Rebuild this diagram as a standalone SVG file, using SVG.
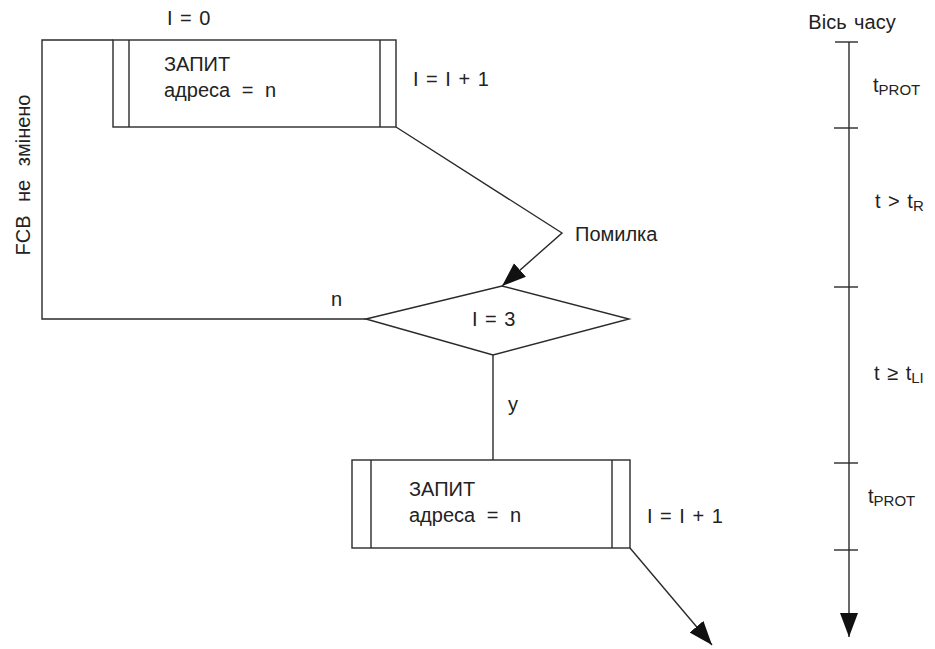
<svg xmlns="http://www.w3.org/2000/svg" width="935" height="649" viewBox="0 0 935 649">
  <defs>
    <style>
      .ln { fill: none; stroke: #2a2a2a; stroke-width: 1.4; }
      .bx { fill: #ffffff; stroke: #2a2a2a; stroke-width: 1.4; }
      .tx { font-family: "Liberation Sans", Arial, sans-serif; font-size: 20px; fill: #222222; word-spacing: 2px; }
      .sub { font-size: 15px; }
    </style>
    <marker id="arrBig" viewBox="0 0 10 10" refX="10" refY="5" markerWidth="24" markerHeight="20" markerUnits="userSpaceOnUse" orient="auto" preserveAspectRatio="none">
      <path d="M0,0.5 L10,5 L0,9.5 z" fill="#111111"/>
    </marker>
  </defs>
  <rect width="935" height="649" fill="#ffffff"/>

  <!-- connectors -->
  <g id="connectors">
    <!-- retry loop: n branch back to top -->
    <polyline class="ln" points="366,319 42,319 42,40 113,40"/>
    <!-- error path from first request -->
    <polyline class="ln" points="396,127 562,233 502,286" marker-end="url(#arrBig)"/>
    <!-- y branch -->
    <line class="ln" x1="493" y1="355" x2="493" y2="460"/>
    <!-- exit from second request -->
    <line class="ln" x1="630" y1="548" x2="712" y2="645" marker-end="url(#arrBig)"/>
  </g>

  <!-- first request -->
  <g id="request1">
    <rect class="bx" x="113" y="40" width="283" height="87"/>
    <line class="ln" x1="129" y1="40" x2="129" y2="127"/>
    <line class="ln" x1="380" y1="40" x2="380" y2="127"/>
    <text class="tx" x="164" y="71">ЗАПИТ</text>
    <text class="tx" x="164" y="97" style="word-spacing:6px">адреса = n</text>
  </g>

  <!-- decision -->
  <g id="decision">
    <polygon class="bx" points="366,319 502,286 629,319 493,355"/>
    <text class="tx" x="472" y="326">I = 3</text>
  </g>

  <!-- second request -->
  <g id="request2">
    <rect class="bx" x="352" y="460" width="278" height="88"/>
    <line class="ln" x1="371" y1="460" x2="371" y2="548"/>
    <line class="ln" x1="612" y1="460" x2="612" y2="548"/>
    <text class="tx" x="409" y="496">ЗАПИТ</text>
    <text class="tx" x="409" y="522" style="word-spacing:6px">адреса = n</text>
  </g>

  <!-- labels -->
  <g id="labels">
    <text class="tx" x="167" y="25">I = 0</text>
    <text class="tx" x="413" y="86">I = I + 1</text>
    <text class="tx" x="575" y="241">Помилка</text>
    <text class="tx" x="331" y="306">n</text>
    <text class="tx" x="508" y="411">y</text>
    <text class="tx" x="647" y="523">I = I + 1</text>
    <text class="tx" transform="translate(30,175) rotate(-90)" text-anchor="middle" style="word-spacing:8px">FCB не змінено</text>
  </g>

  <!-- time axis -->
  <g id="time-axis">
    <line class="ln" x1="849" y1="42" x2="849" y2="637" marker-end="url(#arrBig)"/>
    <line class="ln" x1="835" y1="42" x2="858" y2="42"/>
    <line class="ln" x1="834" y1="128" x2="858" y2="128"/>
    <line class="ln" x1="834" y1="287" x2="858" y2="287"/>
    <line class="ln" x1="834" y1="463" x2="858" y2="463"/>
    <line class="ln" x1="834" y1="550" x2="858" y2="550"/>
    <text class="tx" x="852" y="29" text-anchor="middle">Вісь часу</text>
    <text class="tx" x="873" y="92">t<tspan class="sub" dy="3">PROT</tspan></text>
    <text class="tx" x="875" y="208">t &gt; t<tspan class="sub" dy="3">R</tspan></text>
    <text class="tx" x="874" y="380">t ≥ t<tspan class="sub" dy="3">LI</tspan></text>
    <text class="tx" x="868" y="503">t<tspan class="sub" dy="3">PROT</tspan></text>
  </g>
</svg>
